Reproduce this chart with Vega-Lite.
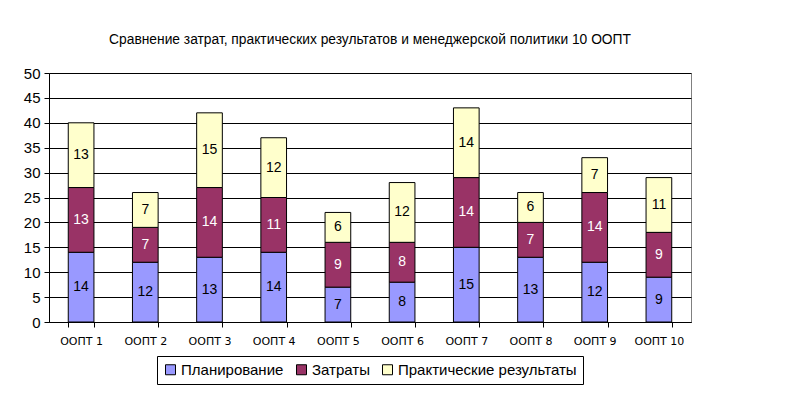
{
  "$schema": "https://vega.github.io/schema/vega-lite/v6.json",
  "autosize": "none",
  "width": 642,
  "height": 249,
  "padding": {"left": 49, "top": 73, "right": 100, "bottom": 76},
  "background": "white",
  "title": {
    "text": "Сравнение затрат, практических результатов и менеджерской политики 10 ООПТ",
    "font": "Liberation Sans",
    "fontSize": 13.8,
    "fontWeight": "normal",
    "color": "black",
    "anchor": "middle",
    "offset": 19
  },
  "config": {
    "font": "Liberation Sans",
    "view": {"stroke": "#808080", "strokeWidth": 1},
    "legend": {"layout": {"bottom": {"anchor": "middle"}}},
    "axisY": {
      "title": null,
      "labelOverlap": false,
      "labelFontSize": 15,
      "labelColor": "black",
      "labelPadding": 4,
      "tickColor": "black",
      "tickSize": 5,
      "domainColor": "black",
      "grid": true,
      "gridColor": "black",
      "gridOpacity": 1
    }
  },
  "data": {
    "values": [
      {"oopt": "ООПТ 1", "series": "Планирование", "value": 14},
      {"oopt": "ООПТ 1", "series": "Затраты", "value": 13},
      {"oopt": "ООПТ 1", "series": "Практические результаты", "value": 13},
      {"oopt": "ООПТ 2", "series": "Планирование", "value": 12},
      {"oopt": "ООПТ 2", "series": "Затраты", "value": 7},
      {"oopt": "ООПТ 2", "series": "Практические результаты", "value": 7},
      {"oopt": "ООПТ 3", "series": "Планирование", "value": 13},
      {"oopt": "ООПТ 3", "series": "Затраты", "value": 14},
      {"oopt": "ООПТ 3", "series": "Практические результаты", "value": 15},
      {"oopt": "ООПТ 4", "series": "Планирование", "value": 14},
      {"oopt": "ООПТ 4", "series": "Затраты", "value": 11},
      {"oopt": "ООПТ 4", "series": "Практические результаты", "value": 12},
      {"oopt": "ООПТ 5", "series": "Планирование", "value": 7},
      {"oopt": "ООПТ 5", "series": "Затраты", "value": 9},
      {"oopt": "ООПТ 5", "series": "Практические результаты", "value": 6},
      {"oopt": "ООПТ 6", "series": "Планирование", "value": 8},
      {"oopt": "ООПТ 6", "series": "Затраты", "value": 8},
      {"oopt": "ООПТ 6", "series": "Практические результаты", "value": 12},
      {"oopt": "ООПТ 7", "series": "Планирование", "value": 15},
      {"oopt": "ООПТ 7", "series": "Затраты", "value": 14},
      {"oopt": "ООПТ 7", "series": "Практические результаты", "value": 14},
      {"oopt": "ООПТ 8", "series": "Планирование", "value": 13},
      {"oopt": "ООПТ 8", "series": "Затраты", "value": 7},
      {"oopt": "ООПТ 8", "series": "Практические результаты", "value": 6},
      {"oopt": "ООПТ 9", "series": "Планирование", "value": 12},
      {"oopt": "ООПТ 9", "series": "Затраты", "value": 14},
      {"oopt": "ООПТ 9", "series": "Практические результаты", "value": 7},
      {"oopt": "ООПТ 10", "series": "Планирование", "value": 9},
      {"oopt": "ООПТ 10", "series": "Затраты", "value": 9},
      {"oopt": "ООПТ 10", "series": "Практические результаты", "value": 11}
    ]
  },
  "transform": [
    {"calculate": "indexof(['Планирование','Затраты','Практические результаты'], datum.series)", "as": "ord"},
    {"stack": "value", "groupby": ["oopt"], "sort": [{"field": "ord", "order": "ascending"}], "as": ["y0", "y1"]},
    {"calculate": "(datum.y0 + datum.y1) / 2", "as": "ymid"}
  ],
  "encoding": {
    "x": {
      "field": "oopt",
      "type": "nominal",
      "sort": null,
      "scale": {"paddingInner": 0.6, "paddingOuter": 0.3},
      "axis": {
        "title": null,
        "labelAngle": 0,
        "labelFont": "DejaVu Sans",
        "labelFontSize": 11,
        "labelColor": "black",
        "labelPadding": 8,
        "tickBand": "extent",
        "tickColor": "black",
        "tickSize": 5,
        "domainColor": "black",
        "grid": false
      }
    }
  },
  "layer": [
    {
      "mark": {"type": "bar", "stroke": "black", "strokeWidth": 1},
      "encoding": {
        "y": {
          "field": "y0",
          "type": "quantitative",
          "scale": {"domain": [0, 50], "nice": false},
          "axis": {"values": [0, 5, 10, 15, 20, 25, 30, 35, 40, 45, 50]}
        },
        "y2": {"field": "y1"},
        "color": {
          "field": "series",
          "type": "nominal",
          "scale": {
            "domain": ["Планирование", "Затраты", "Практические результаты"],
            "range": ["#9999FF", "#993366", "#FFFFCC"]
          },
          "legend": {
            "title": null,
            "orient": "bottom",
            "direction": "horizontal",
            "symbolType": "square",
            "symbolSize": 100,
            "symbolStrokeColor": "black",
            "symbolStrokeWidth": 1,
            "symbolOpacity": 1,
            "labelFontSize": 15,
            "labelColor": "black",
            "labelOffset": 3,
            "labelLimit": 400,
            "columnPadding": 10,
            "strokeColor": "black",
            "padding": 6,
            "offset": 10
          }
        }
      }
    },
    {
      "mark": {"type": "text", "fontSize": 14, "baseline": "middle", "align": "center"},
      "encoding": {
        "y": {
          "field": "ymid",
          "type": "quantitative",
          "axis": {"values": [0, 5, 10, 15, 20, 25, 30, 35, 40, 45, 50]}
        },
        "text": {"field": "value", "type": "quantitative"},
        "color": {
          "condition": {"test": "datum.series === 'Затраты'", "value": "white"},
          "value": "black"
        }
      }
    }
  ]
}
